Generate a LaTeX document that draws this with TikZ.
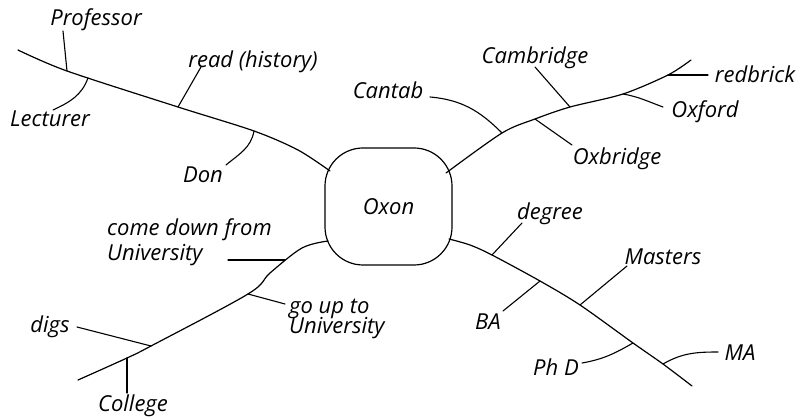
\documentclass[tikz,border=0pt]{standalone}
\usepackage{fontspec}
\setmainfont{Open Sans}
\begin{document}
\begin{tikzpicture}[x=1pt,y=-1pt, line cap=round, line join=round,
  lbl/.style={font=\itshape\fontsize{22}{22}\selectfont, inner sep=1pt},
  twig/.style={line width=1.1pt},
  limb/.style={line width=1.2pt}]
\useasboundingbox (0,0) rectangle (808,419);
% centre
\node[draw, limb, rounded corners=38pt, minimum width=127pt, minimum height=117pt, lbl] (oxon) at (388.5,206.5) {Oxon};
% attachment points on the centre
\coordinate (ulA) at (330,171);
\coordinate (urA) at (446,173);
\coordinate (lrA) at (449,239);
\coordinate (llA) at (328,241);
% upper-left limb
\coordinate (ulEnd) at (18,50);
\coordinate (pProf) at (67,71);
\coordinate (pLect) at (88,78);
\coordinate (pRead) at (178,107);
\coordinate (pDon) at (254,131);
\coordinate (ul2) at (298,150);
\draw[limb] plot[smooth, tension=0.5] coordinates {(ulEnd) (pProf) (pRead) (pDon) (ul2) (ulA)};
% upper-right limb
\coordinate (pCantab) at (502,133);
\coordinate (pOxb) at (535,119);
\coordinate (pCam) at (570,107);
\coordinate (pOxf) at (623,94);
\coordinate (pRed) at (668,75);
\coordinate (urEnd) at (691,60);
\draw[limb] plot[smooth, tension=0.5] coordinates {(urA) (pCantab) (pOxb) (pCam) (pOxf) (pRed) (urEnd)};
% lower-right limb
\coordinate (lr2) at (470,245);
\coordinate (pDeg) at (492,255);
\coordinate (pBA) at (540,281);
\coordinate (pMast) at (580,305);
\coordinate (pPhD) at (633,343);
\coordinate (pMA) at (663,364);
\coordinate (lrEnd) at (692,386);
\draw[limb] plot[smooth, tension=0.5] coordinates {(lrA) (lr2) (pDeg) (pBA) (pMast) (pPhD) (pMA) (lrEnd)};
% lower-left limb
\coordinate (ll2) at (302,248);
\coordinate (ll3) at (270,273);
\coordinate (pCome) at (285,260);
\coordinate (cu) at (228,260);
\coordinate (pGo) at (248,294);
\coordinate (pDigs) at (151,346);
\coordinate (pColl) at (127,358);
\coordinate (llEnd) at (78,380);
\draw[limb] plot[smooth, tension=0.55] coordinates {(llA) (ll2) (ll3) (pGo) (pDigs) (pColl) (llEnd)};
% labels
\node[lbl] (prof) at (96,20) {Professor};
\node[lbl] (lect) at (50,119) {Lecturer};
\node[lbl] (read) at (253,62) {read (history)};
\node[lbl] (don) at (203,175) {Don};
\node[lbl] (cantab) at (388,90) {Cantab};
\node[lbl] (camb) at (535,58) {Cambridge};
\node[lbl] (red) at (755,74) {redbrick};
\node[lbl] (oxf) at (705,112) {Oxford};
\node[lbl] (oxb) at (617,159) {Oxbridge};
\node[lbl] (deg) at (550,214) {degree};
\node[lbl] (mast) at (663,257) {Masters};
\node[lbl] (ba) at (488,322) {BA};
\node[lbl] (phd) at (556,367) {Ph D};
\node[lbl] (ma) at (740,353) {MA};
\node[lbl, align=left, anchor=north west] (come) at (106,217) {come down from\\[3pt]University};
\node[lbl, align=left, anchor=north west] (go) at (288,298) {go up to\\[-2pt]University};
\node[lbl] (digs) at (50,327) {digs};
\node[lbl] (coll) at (133,406) {College};
% twigs
\draw[twig] ([shift={(-33,11)}]prof.center) -- (pProf);
\draw[twig] ([shift={(3,-9)}]lect.center) to[out=25,in=-110] (pLect);
\draw[twig] ([shift={(-52,5)}]read.center) -- (pRead);
\draw[twig] ([shift={(23,-10)}]don.center) to[out=40,in=-100] (pDon);
\draw[twig] ([shift={(42,7)}]cantab.center) to[out=-5,in=135] (pCantab);
\draw[twig] ([shift={(0,9)}]camb.center) -- (pCam);
\draw[twig] ([shift={(-47,1)}]red.center) -- (pRed);
\draw[twig] ([shift={(-42,-5)}]oxf.center) to[out=160,in=-10] (pOxf);
\draw[twig] ([shift={(-45,-14)}]oxb.center) -- (pOxb);
\draw[twig] ([shift={(-28,9)}]deg.center) -- (pDeg);
\draw[twig] ([shift={(-36,9)}]mast.center) -- (pMast);
\draw[twig] ([shift={(15,-11)}]ba.center) -- (pBA);
\draw[twig] ([shift={(26,-4)}]phd.center) to[out=10,in=-150] (pPhD);
\draw[twig] ([shift={(-22,-1)}]ma.center) to[out=180,in=30] (pMA);
\draw[twig] (cu) -- (pCome);
\draw[twig] ([shift={(-3,6)}]go.north west) -- (pGo);
\draw[twig] ([shift={(27,0)}]digs.center) -- (pDigs);
\draw[twig] ([shift={(-6,-13)}]coll.center) -- (pColl);
\end{tikzpicture}
\end{document}
